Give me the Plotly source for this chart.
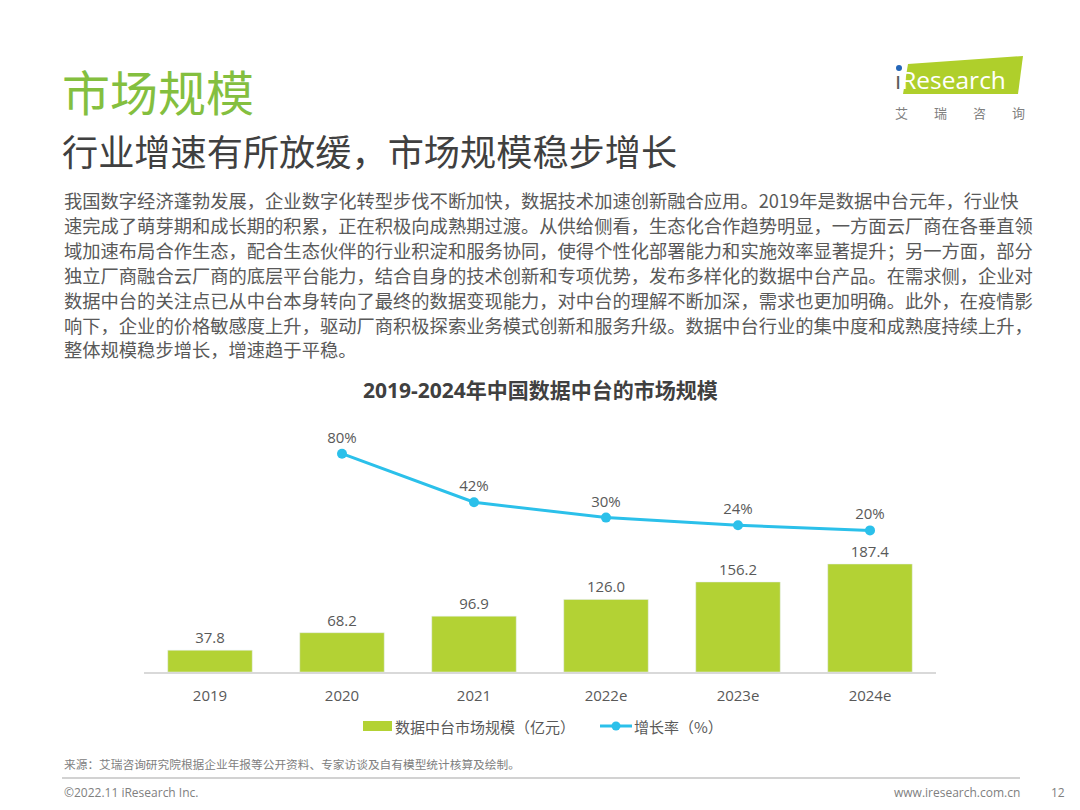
import plotly.graph_objects as go

# 数据
years = ["2019", "2020", "2021", "2022e", "2023e", "2024e"]
market_size = [37.8, 68.2, 96.9, 126.0, 156.2, 187.4]   # 亿元
growth_years = ["2020", "2021", "2022e", "2023e", "2024e"]
growth_rate = [80, 42, 30, 24, 20]                        # %

body_lines = [
    "我国数字经济蓬勃发展，企业数字化转型步伐不断加快，数据技术加速创新融合应用。2019年是数据中台元年，行业快",
    "速完成了萌芽期和成长期的积累，正在积极向成熟期过渡。从供给侧看，生态化合作趋势明显，一方面云厂商在各垂直领",
    "域加速布局合作生态，配合生态伙伴的行业积淀和服务协同，使得个性化部署能力和实施效率显著提升；另一方面，部分",
    "独立厂商融合云厂商的底层平台能力，结合自身的技术创新和专项优势，发布多样化的数据中台产品。在需求侧，企业对",
    "数据中台的关注点已从中台本身转向了最终的数据变现能力，对中台的理解不断加深，需求也更加明确。此外，在疫情影",
    "响下，企业的价格敏感度上升，驱动厂商积极探索业务模式创新和服务升级。数据中台行业的集中度和成熟度持续上升，",
    "整体规模稳步增长，增速趋于平稳。",
]

FONT = "Open Sans, Noto Sans CJK SC, sans-serif"
CJK = "Noto Sans CJK SC, sans-serif"
GREEN_BAR = "#B3D234"
GREEN_TITLE = "#84BF3F"
CYAN = "#2BC0EA"
GRAY = "#595959"

OFF = 8                      # page body margin
W, H = 1080 - OFF, 810 - OFF
L, R, T, B = 144, 936, 410, 672   # plot area in screen pixels


def px(x):
    return (x - L) / (R - L)


def py(y):
    return (B - y) / (B - T)


fig = go.Figure()

fig.add_trace(go.Bar(
    x=years, y=market_size, name="数据中台市场规模（亿元）",
    marker_color=GREEN_BAR,
    text=[f"{v:.1f}" for v in market_size], textposition="outside",
    textfont=dict(size=15, color=GRAY, family=FONT),
    cliponaxis=False,
))

fig.add_trace(go.Scatter(
    x=growth_years, y=growth_rate, name="增长率（%）", yaxis="y2",
    mode="lines+markers+text",
    line=dict(color=CYAN, width=3), marker=dict(size=10, color=CYAN),
    text=[f"{v}%" for v in growth_rate], textposition="top center",
    textfont=dict(size=15, color=GRAY, family=FONT),
    cliponaxis=False,
))

annotations = [
    dict(x=px(60), y=py(90), text="市场规模", font=dict(size=48, color=GREEN_TITLE, family=CJK),
         xanchor="left", yanchor="middle"),
    dict(x=px(60), y=py(150), text="行业增速有所放缓，市场规模稳步增长", font=dict(size=36.2, color="#404040", family=CJK),
         xanchor="left", yanchor="middle"),
    dict(x=0.5, y=py(390), text="<b>2019-2024年中国数据中台的市场规模</b>", font=dict(size=21, color="#404040", family=FONT),
         xanchor="center", yanchor="middle"),
    dict(x=px(62), y=py(763), text="来源：艾瑞咨询研究院根据企业年报等公开资料、专家访谈及自有模型统计核算及绘制。",
         font=dict(size=11.7, color="#808080", family=CJK), xanchor="left", yanchor="middle"),
    dict(x=px(62), y=py(792), text="©2022.11 iResearch Inc.", font=dict(size=12, color="#808080", family=FONT),
         xanchor="left", yanchor="middle"),
    dict(x=px(1022), y=py(792), text="www.iresearch.com.cn", font=dict(size=12, color="#808080", family=FONT),
         xanchor="right", yanchor="middle"),
    dict(x=px(1058), y=py(792), text="12", font=dict(size=12, color="#808080", family=FONT),
         xanchor="center", yanchor="middle"),
    # logo
    dict(x=px(893), y=py(79), text="<span style='color:#5a5a5a'>ı</span>Research",
         font=dict(size=24.5, color="white", family="Open Sans, sans-serif"), xanchor="left", yanchor="middle"),
    dict(x=px(960), y=py(112), text="艾　　瑞　　咨　　询", font=dict(size=13, color="#7f7f7f", family=CJK),
         xanchor="center", yanchor="middle"),
    # legend
    dict(x=px(393), y=py(726), text="数据中台市场规模（亿元）", font=dict(size=15, color=GRAY, family=CJK),
         xanchor="left", yanchor="middle"),
    dict(x=px(632), y=py(726), text="增长率（%）", font=dict(size=15, color=GRAY, family=CJK),
         xanchor="left", yanchor="middle"),
]
for i, line in enumerate(body_lines):
    annotations.append(dict(
        x=px(62), y=py(200 + i * 24.9), text=line, xanchor="left", yanchor="middle",
        font=dict(size=18.3, color=GRAY, family=CJK),
    ))
for a in annotations:
    a.update(xref="paper", yref="paper", showarrow=False)

shapes = [
    dict(type="path", xref="paper", yref="paper",
         path=f"M {px(908)} {py(64)} L {px(1023)} {py(56)} L {px(1018)} {py(94)} L {px(903)} {py(94)} Z",
         fillcolor="#AFCF2B", line=dict(width=0), layer="below"),
    dict(type="circle", xref="paper", yref="paper",
         x0=px(896), x1=px(902), y0=py(65), y1=py(71), fillcolor="#2466B8", line=dict(width=0)),
    dict(type="line", xref="paper", yref="paper", x0=px(62), x1=px(1020), y0=py(778), y1=py(778),
         line=dict(color="#a6a6a6", width=1.2)),
    # legend symbols
    dict(type="rect", xref="paper", yref="paper", x0=px(363), x1=px(392), y0=py(721), y1=py(731),
         fillcolor=GREEN_BAR, line=dict(width=0)),
    dict(type="line", xref="paper", yref="paper", x0=px(600), x1=px(632), y0=py(726), y1=py(726),
         line=dict(color=CYAN, width=3)),
    dict(type="circle", xref="paper", yref="paper", x0=px(611.5), x1=px(620.5), y0=py(721.5), y1=py(730.5),
         fillcolor=CYAN, line=dict(width=0)),
]

fig.update_layout(
    width=W, height=H,
    margin=dict(l=L - OFF, r=W - (R - OFF), t=T - OFF, b=H - (B - OFF), pad=0),
    paper_bgcolor="white", plot_bgcolor="white",
    font=dict(family=FONT, color=GRAY),
    bargap=0.36,
    showlegend=False,
    xaxis=dict(showline=True, linecolor="#d9d9d9", linewidth=1.5, ticks="", showgrid=False,
               ticklabelstandoff=9,
               tickfont=dict(size=15, color=GRAY), categoryorder="array", categoryarray=years),
    yaxis=dict(range=[0, 454.6], visible=False, showgrid=False),
    yaxis2=dict(range=[-90.8, 114.2], overlaying="y", visible=False, showgrid=False),
    annotations=annotations,
    shapes=shapes,
)

fig.write_html("out.html")
